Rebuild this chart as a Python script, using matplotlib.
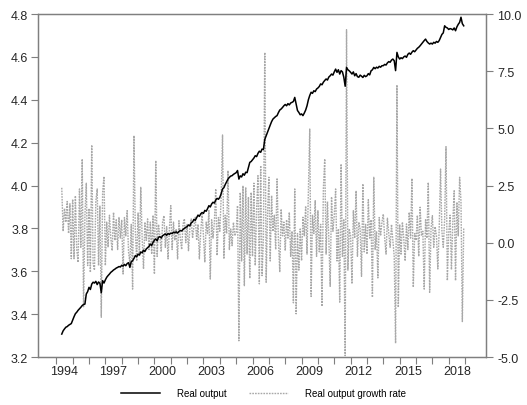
import matplotlib
matplotlib.use("Agg")
import matplotlib.pyplot as plt
import numpy as np

plt.rcParams['font.family'] = ['Liberation Sans', 'DejaVu Sans']
plt.rcParams['axes.unicode_minus'] = False

# monthly series, 1994:05 - 2018:12
start_year = 1994
start_month = 5

# log of real output
real_output = [
    # 1994 (May-Dec)
    3.307, 3.322, 3.331, 3.339, 3.342, 3.348, 3.352, 3.356,
    # 1995
    3.372, 3.388, 3.402, 3.409, 3.418, 3.425, 3.432, 3.440, 3.445, 3.447, 3.494, 3.505,
    # 1996
    3.525, 3.515, 3.540, 3.549, 3.545, 3.553, 3.538, 3.550, 3.544, 3.500, 3.556, 3.545,
    # 1997
    3.560, 3.572, 3.580, 3.587, 3.595, 3.600, 3.606, 3.610, 3.615, 3.618, 3.622, 3.620,
    # 1998
    3.628, 3.624, 3.632, 3.626, 3.636, 3.640, 3.618, 3.645, 3.649, 3.660, 3.673, 3.668,
    # 1999
    3.680, 3.676, 3.690, 3.686, 3.698, 3.692, 3.704, 3.710, 3.716, 3.727, 3.720, 3.735,
    # 2000
    3.745, 3.751, 3.742, 3.758, 3.762, 3.755, 3.766, 3.770, 3.774, 3.768, 3.776, 3.772,
    # 2001
    3.778, 3.776, 3.782, 3.780, 3.784, 3.778, 3.786, 3.790, 3.788, 3.795, 3.800, 3.805,
    # 2002
    3.808, 3.816, 3.812, 3.826, 3.830, 3.842, 3.838, 3.850, 3.862, 3.856, 3.868, 3.874,
    # 2003
    3.870, 3.884, 3.880, 3.892, 3.906, 3.900, 3.914, 3.922, 3.918, 3.932, 3.940, 3.936,
    # 2004
    3.945, 3.962, 3.984, 3.990, 4.005, 4.018, 4.030, 4.038, 4.044, 4.046, 4.052, 4.056,
    # 2005
    4.060, 4.070, 4.030, 4.045, 4.040, 4.055, 4.048, 4.062, 4.060, 4.085, 4.108, 4.112,
    # 2006
    4.120, 4.128, 4.139, 4.135, 4.150, 4.160, 4.155, 4.170, 4.168, 4.215, 4.232, 4.248,
    # 2007
    4.265, 4.282, 4.298, 4.310, 4.316, 4.322, 4.326, 4.340, 4.352, 4.357, 4.364, 4.372,
    # 2008
    4.378, 4.372, 4.382, 4.376, 4.385, 4.388, 4.392, 4.411, 4.380, 4.350, 4.341, 4.330,
    # 2009
    4.334, 4.326, 4.338, 4.352, 4.372, 4.400, 4.420, 4.435, 4.430, 4.442, 4.438, 4.450,
    # 2010
    4.455, 4.462, 4.474, 4.470, 4.482, 4.490, 4.497, 4.492, 4.506, 4.512, 4.520, 4.515,
    # 2011
    4.530, 4.543, 4.528, 4.540, 4.520, 4.536, 4.530, 4.505, 4.463, 4.551, 4.540, 4.535,
    # 2012
    4.528, 4.520, 4.530, 4.512, 4.522, 4.508, 4.505, 4.515, 4.510, 4.504, 4.514, 4.508,
    # 2013
    4.512, 4.522, 4.516, 4.535, 4.540, 4.551, 4.545, 4.552, 4.548, 4.556, 4.552, 4.559,
    # 2014
    4.559, 4.565, 4.562, 4.572, 4.578, 4.575, 4.585, 4.590, 4.582, 4.536, 4.621, 4.600,
    # 2015
    4.590, 4.596, 4.592, 4.600, 4.604, 4.598, 4.612, 4.618, 4.612, 4.622, 4.629, 4.624,
    # 2016
    4.632, 4.640, 4.645, 4.652, 4.660, 4.668, 4.676, 4.683, 4.672, 4.665, 4.660, 4.664,
    # 2017
    4.660, 4.668, 4.664, 4.672, 4.668, 4.676, 4.690, 4.705, 4.712, 4.745, 4.738, 4.735,
    # 2018
    4.728, 4.732, 4.730, 4.726, 4.735, 4.722, 4.740, 4.752, 4.761, 4.785, 4.755, 4.745,
]

# monthly growth rate, percent
growth_rate = [
    # 1994 (May-Dec)
    2.4, 0.5, 1.5, 0.9, 1.8, 0.4, 1.7, -0.7,
    # 1995
    1.9, -0.7, 2.05, -0.3, -0.86, 2.35, -0.2, 3.66, -2.8, 1.2, 2.6, -1.0,
    # 1996
    1.5, -1.3, 4.27, -0.9, -1.2, 1.8, 2.35, -1.0, 1.6, -3.26, 2.2, 2.9,
    # 1997
    -1.0, 0.9, -0.2, 1.2, 0.2, -0.35, 1.33, 0.1, 1.0, -0.3, 1.1, 0.2,
    # 1998
    1.0, -1.37, 1.1, 0.3, 1.4, -0.4, -0.9, 0.8, -2.03, 4.68, 0.5, -0.8,
    # 1999
    1.3, -0.6, 2.42, 0.2, -1.15, 0.9, 0.1, 1.04, -0.3, 0.9, -0.5, 1.2,
    # 2000
    -1.37, 3.59, -0.6, 0.8, 0.3, -0.4, 0.9, 1.18, -0.2, 0.7, -0.71, 0.6,
    # 2001
    1.62, -0.3, 0.9, 0.1, 0.6, -0.71, 0.96, 0.2, -0.3, 0.8, 1.04, 0.0,
    # 2002
    0.8, -0.35, 0.6, 1.04, 0.2, 0.7, 1.11, 0.1, 0.8, -0.71, 0.5, 1.25,
    # 2003
    0.3, -0.86, 0.9, 0.4, 1.4, -1.59, 1.0, 0.2, 0.9, 2.35, -0.56, 1.1,
    # 2004
    0.5, 2.0, 4.71, -0.71, 1.2, 0.4, 3.15, -0.3, 0.6, -0.13, 0.89, 0.3,
    # 2005
    0.45, 1.62, -4.29, 2.2, -0.8, 2.49, -1.88, 2.42, -0.5, 2.0, -1.56, 2.2,
    # 2006
    -0.6, 2.6, -1.0, 1.5, 2.93, -1.8, 3.37, -1.44, 0.2, 8.32, -1.73, 1.2,
    # 2007
    2.86, -0.8, 2.06, 0.5, 1.2, -0.3, 2.79, 0.16, -1.29, 1.47, 0.3, 0.9,
    # 2008
    -0.35, 1.0, 0.2, 1.33, -0.6, 0.5, -2.63, 2.35, -3.11, 0.4, -1.2, 0.6,
    # 2009
    -0.79, 1.11, 0.3, 1.6, -0.5, 2.2, 4.97, -2.35, 1.2, 0.4, 1.84, -0.6,
    # 2010
    1.4, -0.4, 0.8, -2.78, 2.35, 3.66, -0.5, 1.8, 0.2, -1.91, 2.0, 0.5,
    # 2011
    1.2, 2.35, -0.8, 0.6, -2.6, 3.44, -0.6, 1.0, -4.94, 9.31, -1.2, 0.6,
    # 2012
    0.3, -1.8, 1.4, 0.2, 2.27, -0.6, 0.9, 0.6, -1.47, 2.57, -0.4, 0.8,
    # 2013
    -0.5, 1.88, 0.2, 1.0, -2.39, 2.86, -0.3, 0.5, -1.54, 1.1, 0.3, 0.9,
    # 2014
    1.25, 0.2, -0.5, 1.07, 0.4, -0.2, 0.8, 0.1, -0.6, -4.4, 6.9, -2.83,
    # 2015
    0.8, -0.5, 0.9, 0.2, -0.8, 0.82, -0.3, 1.33, 0.2, 2.81, -1.95, 0.4,
    # 2016
    0.1, 1.2, -0.6, 1.55, 0.3, 0.5, -2.03, 1.0, 0.2, 2.64, -2.17, 0.6,
    # 2017
    1.18, -0.2, 0.7, 0.3, -1.15, 0.6, 3.22, 0.5, -0.2, 1.0, 4.2, -1.66,
    # 2018
    0.4, 1.2, -1.18, 0.9, 2.27, -1.66, 1.77, 0.3, 2.86, 1.8, -3.45, 0.63,
]

year_labels = [1994, 1997, 2000, 2003, 2006, 2009, 2012, 2015, 2018]

n = len(real_output)
t = start_year + (start_month - 1) / 12 + np.arange(n) / 12

spine_col = '#7f7f7f'
text_col = '#262626'

fig = plt.figure(figsize=(5.27, 4.06), dpi=100)
ax = fig.add_axes([0.0721, 0.1182, 0.8501, 0.8448])
ax2 = ax.twinx()

ax2.plot(t, growth_rate, color='#a8a8a8', lw=1.0, ls=(0, (1.2, 0.8)),
         label='Real output growth rate')
ax.plot(t, real_output, color='black', lw=1.1, label='Real output')

# keep the output line above the dotted growth series
ax.set_zorder(ax2.get_zorder() + 1)
ax.patch.set_visible(False)

ax.set_xlim(1992.88, 2020.28)
ax.set_ylim(3.2, 4.8)
ax.set_yticks(np.arange(3.2, 4.81, 0.2))
ax.set_yticklabels(['%.1f' % v for v in np.arange(3.2, 4.81, 0.2)])
ax2.set_ylim(-5, 10)
ax2.set_yticks(np.arange(-5, 10.1, 2.5))
ax2.set_yticklabels(['%.1f' % v for v in np.arange(-5, 10.1, 2.5)])

# year ticks at period starts, labels centred on the year
ax.set_xticks(np.arange(1994, 2020))
ax.set_xticklabels([])
ax.set_xticks([y + 0.5 for y in year_labels], minor=True)
ax.set_xticklabels([str(y) for y in year_labels], minor=True)
ax.tick_params(axis='x', which='minor', length=0, pad=6)
ax.tick_params(axis='x', which='major', length=5, width=0.8, color=spine_col)

for a in (ax, ax2):
    for s in a.spines.values():
        s.set_color(spine_col)
        s.set_linewidth(0.9)
    a.tick_params(axis='y', length=5, width=0.8, color=spine_col,
                  labelsize=9, labelcolor=text_col, pad=2)
ax.tick_params(axis='x', which='both', labelsize=9, labelcolor=text_col)
ax2.tick_params(axis='y', pad=3)

h1, l1 = ax.get_legend_handles_labels()
h2, l2 = ax2.get_legend_handles_labels()
fig.legend(h1 + h2, l1 + l2, loc='lower center', bbox_to_anchor=(0.5, -0.005),
           ncol=2, frameon=False, fontsize=7, handlelength=4.0,
           columnspacing=2.3, handletextpad=1.75)

fig.savefig('out.png', dpi=100)
